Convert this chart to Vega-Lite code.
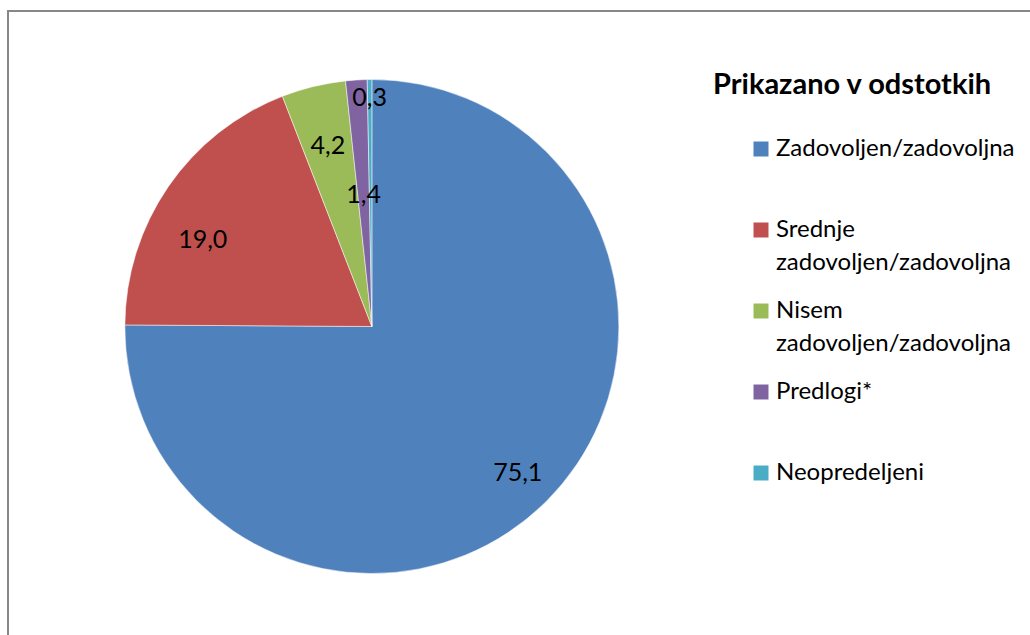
{
  "$schema": "https://vega.github.io/schema/vega-lite/v6.json",
  "width": 1030,
  "height": 635,
  "autosize": {"type": "fit", "contains": "padding"},
  "padding": {"left": 8, "top": 11, "right": -3, "bottom": -3},
  "background": "white",
  "view": {"stroke": "#878787", "strokeWidth": 2},
  "config": {
    "view": {"stroke": "#878787", "strokeWidth": 2},
    "font": "Lato",
    "style": {"guide-label": {"lineHeight": 33}},
    "locale": {"number": {"decimal": ",", "thousands": ".", "grouping": [3], "currency": ["", " €"]}}
  },
  "data": {
    "values": [
      {"i": 1, "kategorija": "Zadovoljen/zadovoljna", "v": 75.1},
      {"i": 2, "kategorija": "Srednje zadovoljen/zadovoljna", "v": 19.0},
      {"i": 3, "kategorija": "Nisem zadovoljen/zadovoljna", "v": 4.2},
      {"i": 4, "kategorija": "Predlogi*", "v": 1.4},
      {"i": 5, "kategorija": "Neopredeljeni", "v": 0.3}
    ]
  },
  "encoding": {
    "theta": {"field": "v", "type": "quantitative", "stack": true},
    "order": {"field": "i", "type": "quantitative"}
  },
  "layer": [
    {
      "mark": {"type": "arc", "outerRadius": 247, "stroke": "white", "strokeWidth": 0.5, "x": {"expr": "width*0.355"}, "y": {"expr": "height/2+2"}},
      "encoding": {
        "color": {
          "field": "kategorija",
          "type": "nominal",
          "sort": null,
          "scale": {
            "domain": ["Zadovoljen/zadovoljna", "Srednje zadovoljen/zadovoljna", "Nisem zadovoljen/zadovoljna", "Predlogi*", "Neopredeljeni"],
            "range": ["#4F81BD", "#C0504D", "#9BBB59", "#8064A2", "#4BACC6"]
          },
          "legend": {
            "orient": "none",
            "legendX": 705,
            "legendY": 60,
            "title": "Prikazano v odstotkih",
            "titleFont": "Lato",
            "titleFontSize": 29,
            "titleFontWeight": "bold",
            "titleColor": "black",
            "titleLimit": 500,
            "titlePadding": 37,
            "labelFont": "Lato",
            "labelFontSize": 24,
            "labelColor": "black",
            "labelLimit": 500,
            "labelExpr": "indexof(datum.label, ' ') > 0 ? split(datum.label, ' ') : [datum.label, '']",
            "symbolType": "square",
            "symbolSize": 225,
            "symbolStrokeWidth": 0,
            "symbolOffset": 36,
            "labelOffset": 3,
            "rowPadding": 24
          }
        }
      }
    },
    {
      "mark": {
        "type": "text",
        "x": {"expr": "width*0.355"},
        "y": {"expr": "height/2+2"},
        "radius": {"expr": "datum.v < 1 ? 229 : (datum.v < 2 ? 132 : (datum.v < 5 ? 186 : (datum.v < 20 ? 190 : 207)))"},
        "thetaOffset": {"expr": "datum.v > 10 && datum.v < 20 ? -0.13 : 0"},
        "font": "Lato",
        "fontSize": 25,
        "fill": "black"
      },
      "encoding": {
        "text": {"field": "v", "type": "quantitative", "format": ".1f"}
      }
    }
  ]
}
